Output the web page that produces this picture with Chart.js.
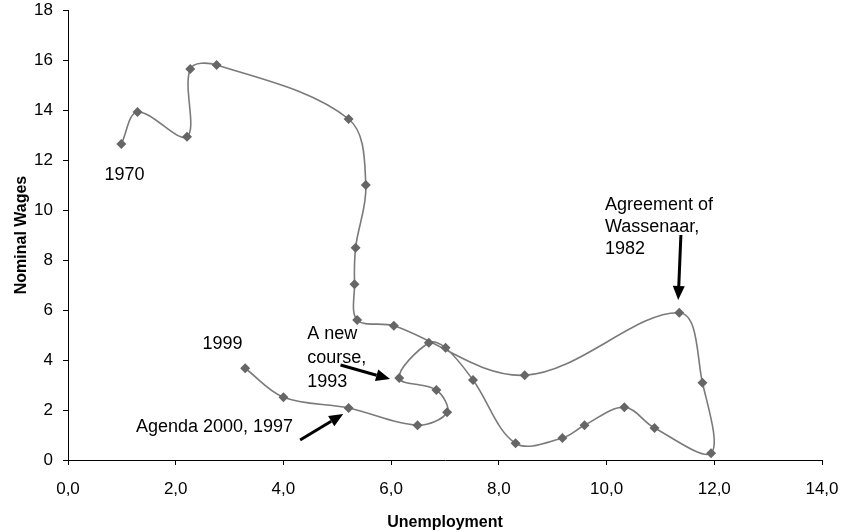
<!DOCTYPE html>
<html>
<head>
<meta charset="utf-8">
<script src="https://cdn.jsdelivr.net/npm/chart.js@4/dist/chart.umd.min.js"></script>
<style>
html,body{margin:0;padding:0;background:#fff;}
#wrap{width:841px;height:532px;}
</style>
</head>
<body>
<div id="wrap"><canvas id="c" width="841" height="532"></canvas></div>
<script>
// ---- data ----
const years = [1970,1971,1972,1973,1974,1975,1976,1977,1978,1979,1980,1981,1982,1983,1984,1985,1986,1987,1988,1989,1990,1991,1992,1993,1994,1995,1996,1997,1998,1999];
const unemployment = [0.99,1.29,2.21,2.27,2.76,5.21,5.53,5.34,5.32,5.37,6.05,8.48,11.35,11.78,11.94,10.89,10.33,9.59,9.18,8.31,7.52,7.01,6.70,6.15,6.84,7.04,6.49,5.21,4.00,3.29];
const nominalWages = [12.64,13.92,12.93,15.64,15.80,13.64,11.00,8.49,7.03,5.60,5.37,3.39,5.89,3.09,0.27,1.28,2.11,1.39,0.88,0.67,3.20,4.49,4.69,3.28,2.80,1.91,1.39,2.08,2.51,3.67];
const xTickLabels = ["0,0","2,0","4,0","6,0","8,0","10,0","12,0","14,0"];
const yTickLabels = ["0","2","4","6","8","10","12","14","16","18"];

// ---- annotations (layout) ----
const notes = [
  {lines:["1970"], x:1.05, y:11.4, align:"center"},
  {lines:["1999"], x:2.87, y:4.64, align:"center"},
  {lines:["A new","course,","1993"], x:4.44, y:5.04, align:"left", step:24},
  {lines:["Agenda 2000, 1997"], x:2.72, y:1.32, align:"center"},
  {lines:["Agreement of","Wassenaar,","1982"], x:9.97, y:10.2, align:"left", step:22}
];
const arrows = [
  {x1:11.38, y1:9.0, x2:11.33, y2:6.4},
  {x1:5.06, y1:3.8, x2:5.98, y2:3.24},
  {x1:4.31, y1:0.8, x2:5.11, y2:1.84}
];

const points = unemployment.map((u,i)=>({x:u, y:nominalWages[i]}));
const FONT = '"Liberation Sans", Arial, sans-serif';

const annotPlugin = {
  id:'annot',
  afterDatasetsDraw(chart){
    const ctx = chart.ctx, xs = chart.scales.x, ys = chart.scales.y;
    ctx.save();
    ctx.fillStyle = '#000';
    ctx.font = '18px ' + FONT;
    ctx.textBaseline = 'middle';
    notes.forEach(n=>{
      ctx.textAlign = n.align;
      const px = xs.getPixelForValue(n.x), py = ys.getPixelForValue(n.y);
      n.lines.forEach((t,i)=>ctx.fillText(t, px, py + i*(n.step||22)));
    });
    ctx.strokeStyle = '#000';
    ctx.lineWidth = 3;
    arrows.forEach(a=>{
      const x1 = xs.getPixelForValue(a.x1), y1 = ys.getPixelForValue(a.y1);
      const x2 = xs.getPixelForValue(a.x2), y2 = ys.getPixelForValue(a.y2);
      const ang = Math.atan2(y2-y1, x2-x1);
      const hl = 14, hw = 6;
      const bx = x2 - hl*Math.cos(ang), by = y2 - hl*Math.sin(ang);
      ctx.beginPath(); ctx.moveTo(x1,y1); ctx.lineTo(bx,by); ctx.stroke();
      ctx.beginPath();
      ctx.moveTo(x2,y2);
      ctx.lineTo(bx + hw*Math.sin(ang), by - hw*Math.cos(ang));
      ctx.lineTo(bx - hw*Math.sin(ang), by + hw*Math.cos(ang));
      ctx.closePath(); ctx.fill();
    });
    ctx.restore();
  }
};

new Chart(document.getElementById('c'), {
  type:'scatter',
  data:{
    labels: years,
    datasets:[{
      label:'Wages vs unemployment',
      data: points,
      showLine:true,
      tension:0.35,
      borderColor:'#7a7a7a',
      borderWidth:1.6,
      pointStyle:'rectRot',
      pointRadius:5,
      pointBackgroundColor:'#666666',
      pointBorderColor:'#666666',
      pointBorderWidth:0
    }]
  },
  options:{
    responsive:false,
    animation:false,
    layout:{padding:{top:10,right:19,left:0,bottom:0}},
    plugins:{legend:{display:false}, tooltip:{enabled:false}},
    scales:{
      x:{
        type:'linear', min:0, max:14,
        afterFit(s){ s.height = 72; s.paddingLeft = 0; s.paddingRight = 0; },
        afterBuildTicks(s){ s.ticks = xTickLabels.map((l,i)=>({value:i*2})); },
        ticks:{ stepSize:2, padding:14, color:'#000', maxRotation:0,
          font:{family:FONT, size:17},
          callback:(v,i)=>xTickLabels[i] },
        grid:{ drawOnChartArea:false, drawTicks:true, tickLength:5, color:'#000' },
        border:{ display:true, color:'#000', width:1 },
        title:{ display:true, text:'Unemployment', color:'#000', padding:{top:0,bottom:0},
          font:{family:FONT, size:16, weight:'bold'} }
      },
      y:{
        type:'linear', min:0, max:18,
        afterFit(s){ s.width = 68; s.paddingTop = 0; s.paddingBottom = 0; },
        afterBuildTicks(s){ s.ticks = yTickLabels.map((l,i)=>({value:i*2})); },
        ticks:{ stepSize:2, padding:10, color:'#000',
          font:{family:FONT, size:17},
          callback:(v,i)=>yTickLabels[i] },
        grid:{ drawOnChartArea:false, drawTicks:true, tickLength:5, color:'#000' },
        border:{ display:true, color:'#000', width:1 },
        title:{ display:true, text:'Nominal Wages', color:'#000', padding:{top:12,bottom:0},
          font:{family:FONT, size:16, weight:'bold'} }
      }
    }
  },
  plugins:[annotPlugin]
});
</script>
</body>
</html>
